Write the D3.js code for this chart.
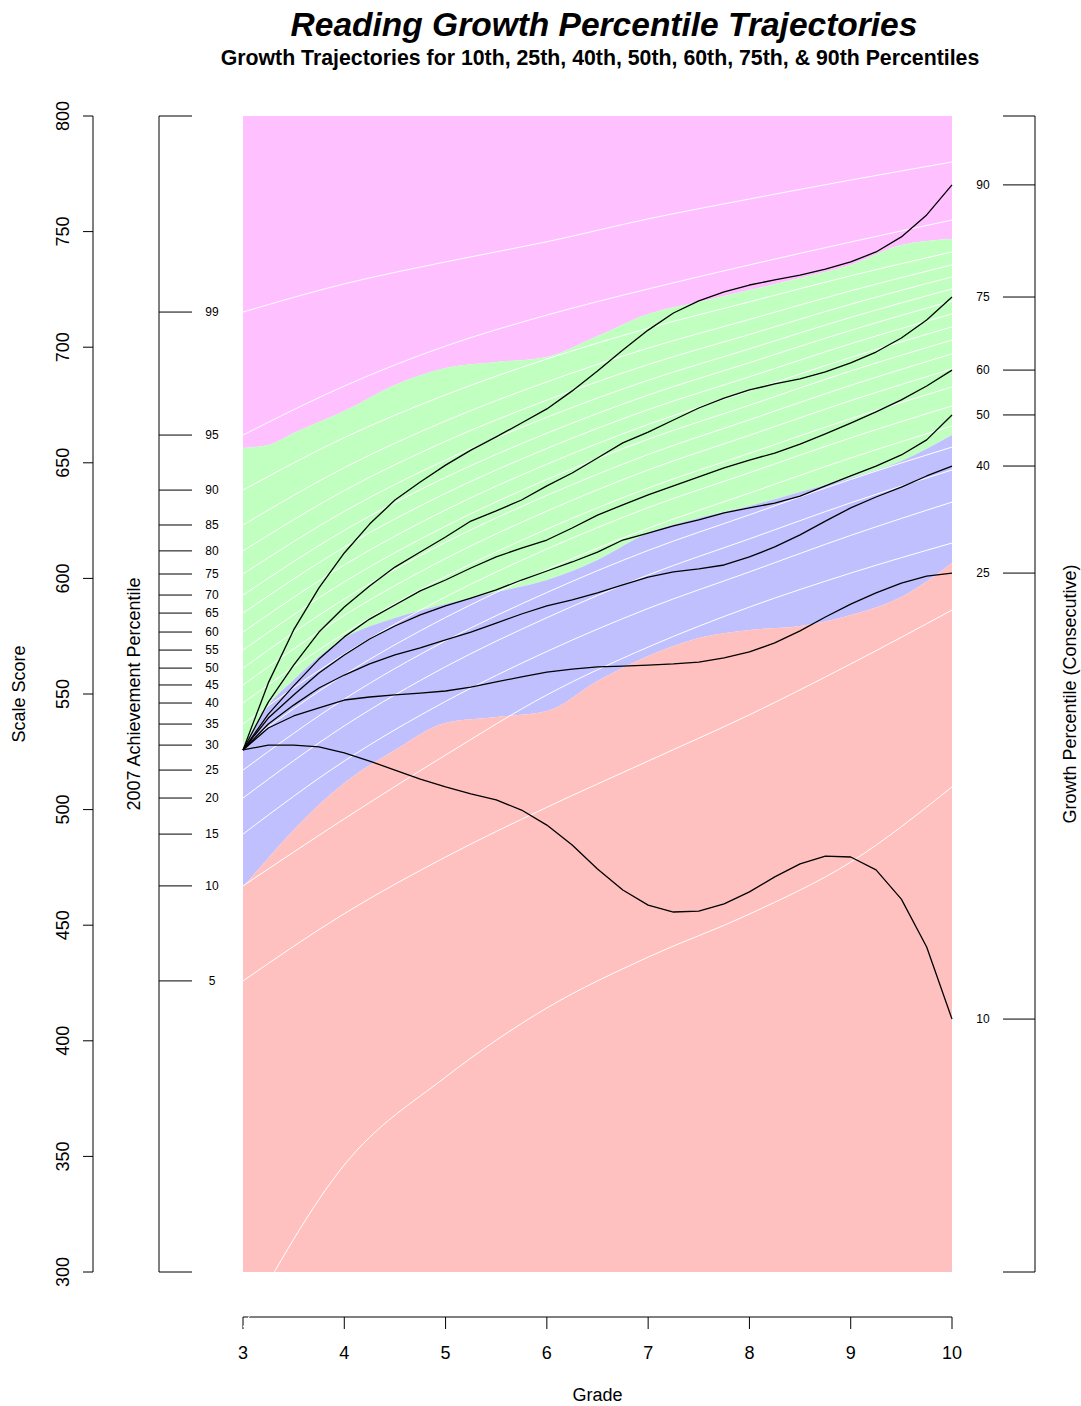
<!DOCTYPE html>
<html><head><meta charset="utf-8">
<script src="https://cdn.jsdelivr.net/npm/d3@7"></script>
<style>
body{margin:0;background:#fff}
svg{display:block}
text{font-family:"Liberation Sans", Arial, Helvetica, sans-serif;fill:#000}
</style>
</head><body>
<svg id="chart" width="1081" height="1406"></svg>
<script>
// ---------------- DATA ----------------
const gradeTicks = [3, 4, 5, 6, 7, 8, 9, 10];
const scaleTicks = [300, 350, 400, 450, 500, 550, 600, 650, 700, 750, 800];

// Achievement-level cut curves (scale score) by grade
const bandGrades    = [3, 3.25, 3.5, 4, 4.5, 5, 5.5, 6, 6.5, 7, 7.5, 8, 8.5, 9, 9.5, 10];
const cutAdvanced   = [656.4, 657.7, 662.9, 672.4, 683.7, 691.0, 693.6, 695.8, 704.8, 714.4, 719.6, 724.7, 729.9, 735.6, 744.2, 746.8];
const cutProficient = [525.8, 545.0, 556.1, 574.2, 582.9, 588.9, 594.1, 599.3, 608.0, 619.6, 626.1, 631.3, 637.4, 643.4, 650.8, 662.0];
const cutPartial    = [466.5, 479.1, 491.2, 511.5, 525.8, 537.5, 540.0, 542.6, 555.6, 566.4, 574.2, 577.7, 579.4, 584.2, 592.0, 606.7];
const bandColors = ["#FFC0FF", "#C0FFC0", "#C0C0FF", "#FFC0C0"];

// Achievement percentile curves (white), values at grades 3..10
const achievementPercentiles = [1, 5, 10, 15, 20, 25, 30, 35, 40, 45, 50, 55, 60, 65, 70, 75, 80, 85, 90, 95, 99];
const achievementCurves = [
  [276.0, 346.3, 384.3, 414.2, 436.2, 454.8, 477.3, 509.8],
  [425.9, 455.0, 479.5, 501.0, 521.0, 541.0, 563.0, 586.3],
  [467.0, 496.0, 523.6, 549.6, 570.3, 587.6, 602.3, 615.3],
  [489.4, 521.0, 546.8, 568.4, 587.0, 602.8, 618.6, 633.0],
  [505.0, 536.2, 561.8, 583.0, 601.5, 617.1, 632.7, 646.9],
  [517.1, 547.8, 573.0, 593.9, 612.1, 627.5, 642.8, 656.8],
  [527.9, 558.3, 583.1, 603.8, 621.7, 636.9, 652.1, 665.9],
  [537.0, 567.3, 592.0, 612.7, 630.6, 645.7, 660.8, 674.6],
  [546.1, 576.2, 600.8, 621.3, 639.1, 654.1, 669.1, 682.8],
  [553.9, 584.0, 608.6, 629.1, 646.9, 661.9, 676.9, 690.6],
  [561.2, 591.1, 615.6, 635.9, 653.6, 668.6, 683.5, 697.1],
  [569.0, 598.5, 622.6, 642.8, 660.2, 674.9, 689.7, 703.1],
  [576.8, 605.8, 629.6, 649.4, 666.6, 681.1, 695.6, 708.8],
  [585.0, 613.5, 636.8, 656.2, 673.0, 687.2, 701.5, 714.4],
  [592.8, 620.8, 643.7, 662.8, 679.3, 693.3, 707.3, 720.0],
  [601.9, 629.0, 651.2, 669.7, 685.7, 699.3, 712.9, 725.2],
  [611.9, 638.0, 659.3, 677.1, 692.5, 705.5, 718.6, 730.4],
  [623.1, 647.9, 668.1, 685.0, 699.6, 712.0, 724.4, 735.6],
  [638.2, 660.9, 679.4, 694.9, 708.2, 719.6, 730.9, 741.2],
  [662.0, 683.2, 700.5, 713.9, 725.2, 735.6, 745.5, 755.0],
  [715.2, 727.4, 736.9, 745.6, 755.5, 764.1, 772.3, 780.1]
];

// Growth percentile trajectories, quarter grades 3..10
const trajGrades = [3, 3.25, 3.5, 3.75, 4, 4.25, 4.5, 4.75, 5, 5.25, 5.5, 5.75, 6, 6.25, 6.5, 6.75, 7, 7.25, 7.5, 7.75, 8, 8.25, 8.5, 8.75, 9, 9.25, 9.5, 9.75, 10];
const growthPercentiles = [10, 25, 40, 50, 60, 75, 90];
const traj10 = [525.8, 527.9, 527.9, 527.1, 524.5, 521.0, 517.1, 513.2, 509.8, 506.8, 504.2, 499.8, 493.3, 484.7, 474.3, 465.2, 458.7, 455.7, 456.1, 459.2, 464.4, 470.9, 476.5, 479.9, 479.5, 473.9, 461.3, 440.6, 409.4];
const traj25 = [525.8, 535.3, 540.5, 544.0, 547.4, 548.7, 549.6, 550.4, 551.3, 553.0, 555.2, 557.4, 559.5, 560.8, 561.7, 562.1, 562.5, 563.0, 563.8, 565.6, 568.2, 572.1, 577.3, 583.3, 588.9, 593.7, 598.0, 601.0, 602.3];
const traj40 = [525.8, 537.0, 545.2, 552.6, 558.2, 563.0, 566.9, 569.9, 573.4, 576.8, 580.7, 584.6, 588.1, 590.7, 593.7, 597.2, 600.6, 602.8, 604.1, 605.8, 609.3, 613.6, 618.8, 624.8, 630.5, 635.2, 639.5, 644.3, 648.6];
const traj50 = [525.8, 539.6, 549.6, 559.1, 566.9, 573.8, 579.4, 584.2, 588.1, 591.5, 595.0, 599.3, 603.2, 607.1, 611.4, 616.6, 619.6, 622.7, 625.3, 628.3, 630.5, 632.6, 635.6, 640.0, 644.3, 648.6, 653.4, 659.9, 670.7];
const traj60 = [525.8, 541.3, 553.5, 565.1, 574.7, 582.4, 588.5, 594.6, 599.3, 604.5, 609.3, 613.1, 616.6, 621.8, 627.4, 631.8, 636.1, 640.0, 643.9, 647.8, 651.2, 654.2, 658.1, 662.5, 667.2, 672.0, 677.2, 683.2, 690.1];
const traj75 = [525.8, 546.5, 562.5, 576.8, 587.6, 596.7, 604.9, 611.4, 617.9, 624.8, 629.2, 633.9, 640.0, 645.6, 652.1, 658.6, 663.3, 668.5, 673.7, 678.0, 681.5, 684.1, 686.3, 689.3, 693.2, 697.9, 704.0, 711.8, 721.7];
const traj90 = [525.8, 554.8, 577.7, 595.9, 611.0, 623.5, 633.9, 641.7, 649.0, 655.5, 661.2, 667.2, 673.3, 681.1, 689.7, 698.8, 707.4, 714.8, 720.0, 723.9, 726.9, 729.1, 731.2, 733.8, 736.9, 741.2, 747.7, 757.2, 770.2];
const trajectories = [traj10, traj25, traj40, traj50, traj60, traj75, traj90];

const titleText = "Reading Growth Percentile Trajectories";
const subtitleText = "Growth Trajectories for 10th, 25th, 40th, 50th, 60th, 75th, & 90th Percentiles";

// ---------------- LAYOUT ----------------
const svg = d3.select("#chart");
const x = d3.scaleLinear().domain([3, 10]).range([243, 952]);
const y = d3.scaleLinear().domain([300, 800]).range([1272, 116]);
const yTop = y(800), yBot = y(300);

// clip for white curves (extends a bit below the data region)
svg.append("defs").append("clipPath").attr("id", "plotclip")
  .append("rect").attr("x", x(3)).attr("y", yTop).attr("width", x(10) - x(3)).attr("height", 1335 - yTop);

// ---------------- BANDS ----------------
const bandTop = bandGrades.map(() => 800);
const bandBottom = bandGrades.map(() => 300);
const bandEdges = [bandTop, cutAdvanced, cutProficient, cutPartial, bandBottom];
const area = d3.area()
  .x(d => x(d.g)).y0(d => y(d.lo)).y1(d => y(d.hi))
  .curve(d3.curveMonotoneX);
for (let b = 0; b < 4; b++) {
  const pts = bandGrades.map((g, i) => ({g, hi: bandEdges[b][i], lo: bandEdges[b + 1][i]}));
  svg.append("path").attr("d", area(pts)).attr("fill", bandColors[b]).attr("stroke", "none");
}

// ---------------- X AXIS ----------------
const xAxis = svg.append("g").attr("transform", `translate(0,1317)`);
xAxis.append("line").attr("x1", x(3)).attr("x2", x(10)).attr("y1", 0).attr("y2", 0).attr("stroke", "#000").attr("stroke-width", 1);
gradeTicks.forEach(g => {
  xAxis.append("line").attr("x1", x(g)).attr("x2", x(g)).attr("y1", 0).attr("y2", 12).attr("stroke", "#000");
  xAxis.append("text").attr("x", x(g)).attr("y", 41.5).attr("text-anchor", "middle").attr("font-size", 18).text(g);
});
svg.append("text").attr("x", x(6.5)).attr("y", 1401).attr("text-anchor", "middle").attr("font-size", 18).text("Grade");

// ---------------- WHITE PERCENTILE CURVES ----------------
const wline = d3.line().x((d, i) => x(gradeTicks[i])).y(d => y(d)).curve(d3.curveMonotoneX);
const wg = svg.append("g").attr("clip-path", "url(#plotclip)");
achievementCurves.forEach(c => {
  wg.append("path").attr("d", wline(c)).attr("fill", "none").attr("stroke", "#fff").attr("stroke-width", 1);
});

// ---------------- TRAJECTORIES ----------------
const tline = d3.line().x((d, i) => x(trajGrades[i])).y(d => y(d));
trajectories.forEach(t => {
  svg.append("path").attr("d", tline(t)).attr("fill", "none").attr("stroke", "#000").attr("stroke-width", 1.3).attr("stroke-linejoin", "round");
});

// ---------------- LEFT SCALE SCORE AXIS ----------------
const axL = 93;
svg.append("line").attr("x1", axL).attr("x2", axL).attr("y1", yTop).attr("y2", yBot).attr("stroke", "#000");
scaleTicks.forEach(s => {
  svg.append("line").attr("x1", axL - 10).attr("x2", axL).attr("y1", y(s)).attr("y2", y(s)).attr("stroke", "#000");
  svg.append("text").attr("transform", `translate(68.5,${y(s)}) rotate(-90)`).attr("text-anchor", "middle").attr("font-size", 18).text(s);
});
svg.append("text").attr("transform", `translate(25,${(yTop + yBot) / 2}) rotate(-90)`).attr("text-anchor", "middle").attr("font-size", 18).text("Scale Score");

// ---------------- ACHIEVEMENT PERCENTILE AXIS ----------------
const axA = 159;
svg.append("line").attr("x1", axA).attr("x2", axA).attr("y1", yTop).attr("y2", yBot).attr("stroke", "#000");
[yTop, yBot].forEach(v => svg.append("line").attr("x1", axA).attr("x2", axA + 33).attr("y1", v).attr("y2", v).attr("stroke", "#000"));
achievementPercentiles.forEach((p, i) => {
  const v = achievementCurves[i][0];
  if (v < 300) return;
  svg.append("line").attr("x1", axA).attr("x2", axA + 33).attr("y1", y(v)).attr("y2", y(v)).attr("stroke", "#000");
  svg.append("text").attr("x", 212).attr("y", y(v) + 4.3).attr("text-anchor", "middle").attr("font-size", 12).text(p);
});
svg.append("text").attr("transform", `translate(140,${(yTop + yBot) / 2}) rotate(-90)`).attr("text-anchor", "middle").attr("font-size", 18).text("2007 Achievement Percentile");

// ---------------- GROWTH PERCENTILE AXIS (RIGHT) ----------------
const axR = 1035;
svg.append("line").attr("x1", axR).attr("x2", axR).attr("y1", yTop).attr("y2", yBot).attr("stroke", "#000");
[yTop, yBot].forEach(v => svg.append("line").attr("x1", axR - 32).attr("x2", axR).attr("y1", v).attr("y2", v).attr("stroke", "#000"));
growthPercentiles.forEach((p, i) => {
  const v = trajectories[i][trajectories[i].length - 1];
  svg.append("line").attr("x1", axR - 32).attr("x2", axR).attr("y1", y(v)).attr("y2", y(v)).attr("stroke", "#000");
  svg.append("text").attr("x", 983).attr("y", y(v) + 4.3).attr("text-anchor", "middle").attr("font-size", 12).text(p);
});
svg.append("text").attr("transform", `translate(1076,${(yTop + yBot) / 2}) rotate(-90)`).attr("text-anchor", "middle").attr("font-size", 18).text("Growth Percentile (Consecutive)");

// ---------------- TITLES ----------------
svg.append("text").attr("x", 604).attr("y", 36).attr("text-anchor", "middle")
  .attr("font-size", 33.5).attr("font-weight", "bold").attr("font-style", "italic").text(titleText);
svg.append("text").attr("x", 600).attr("y", 65).attr("text-anchor", "middle")
  .attr("font-size", 21.3).attr("font-weight", "bold").text(subtitleText);
</script>
</body></html>
